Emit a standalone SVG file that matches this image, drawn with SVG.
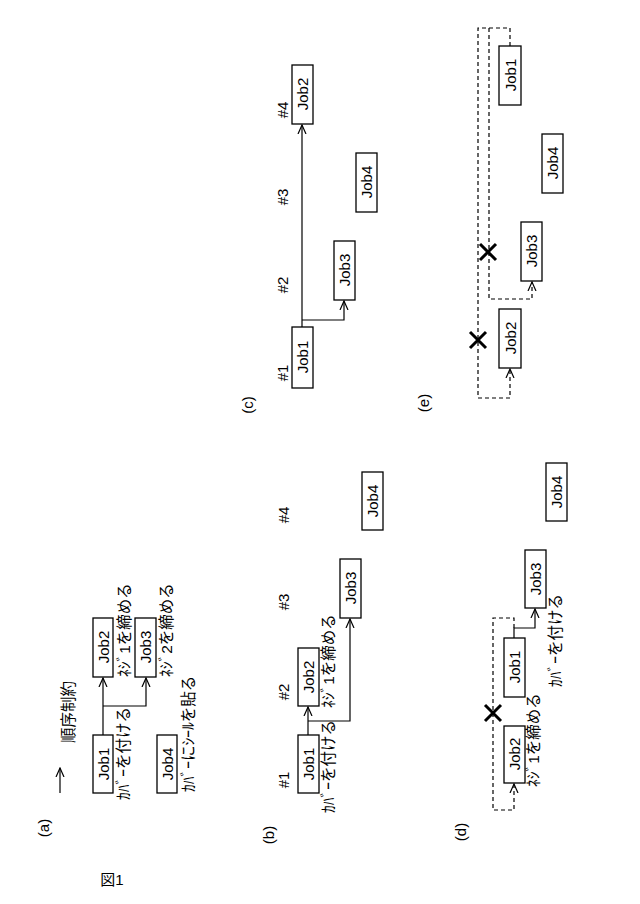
<svg xmlns="http://www.w3.org/2000/svg" width="640" height="904" viewBox="0 0 640 904">
<style>
.b{fill:#fff;stroke:#000;stroke-width:1.3}
.t{font-family:"Liberation Sans",sans-serif;font-size:15px;text-anchor:middle;dominant-baseline:central}
.j{font-family:"Liberation Sans","Noto Sans CJK JP",sans-serif;font-size:15.5px;dominant-baseline:central}
.l{fill:none;stroke:#000;stroke-width:1.2}
.d{fill:none;stroke:#000;stroke-width:1.2;stroke-dasharray:4,3}
.x{stroke:#000;stroke-width:3}
</style>
<defs>
<marker id="a" markerWidth="10" markerHeight="10" refX="9" refY="5" orient="auto" markerUnits="userSpaceOnUse"><path d="M0,1 L9,5 L0,9" fill="none" stroke="#000" stroke-width="1.2"/></marker>
</defs>
<rect width="640" height="904" fill="#fff"/>
<g id="connectors">
<path class="l" d="M60,793 V768" marker-end="url(#a)"/>
<path class="l" d="M103,735 V678" marker-end="url(#a)"/>
<path class="l" d="M103,706 H146 V678" marker-end="url(#a)"/>
<path class="l" d="M308,735 V707" marker-end="url(#a)"/>
<path class="l" d="M308,721 H350 V619" marker-end="url(#a)"/>
<path class="l" d="M302,327 V125" marker-end="url(#a)"/>
<path class="l" d="M302,320 H344 V301" marker-end="url(#a)"/>
<path class="l" d="M514,638 V628 H535 V609" marker-end="url(#a)"/>
<path class="d" d="M514,628 V618 H493 V810 H514 V784" marker-end="url(#a)"/>
<path class="d" d="M510,46 V28 H478 V398 H510 V369" marker-end="url(#a)"/>
<path class="d" d="M489,28 V299 H532 V282" marker-end="url(#a)"/>
<path class="x" d="M485,705 L501,721 M501,705 L485,721"/>
<path class="x" d="M480,244 L496,260 M496,244 L480,260"/>
<path class="x" d="M470,332 L486,348 M486,332 L470,348"/>
</g>
<g id="panel-a">
<text class="j" transform="translate(68,743) rotate(-90)">順序制約</text>
<text class="t" transform="translate(43,828) rotate(-90)">(a)</text>
<g id="a-job1"><rect class="b" x="93" y="735" width="20" height="58"/><text class="t" transform="translate(103,764) rotate(-90)">Job1</text><text class="j" transform="translate(123,800) rotate(-90)">ｶﾊﾞｰを付ける</text></g>
<g id="a-job2"><rect class="b" x="93" y="618" width="20" height="59"/><text class="t" transform="translate(103,647) rotate(-90)">Job2</text><text class="j" transform="translate(124,677) rotate(-90)">ﾈｼﾞ1を締める</text></g>
<g id="a-job3"><rect class="b" x="135" y="618" width="21" height="59"/><text class="t" transform="translate(145,647) rotate(-90)">Job3</text><text class="j" transform="translate(166,677) rotate(-90)">ﾈｼﾞ2を締める</text></g>
<g id="a-job4"><rect class="b" x="157" y="735" width="20" height="58"/><text class="t" transform="translate(167,764) rotate(-90)">Job4</text><text class="j" transform="translate(188,792) rotate(-90)">ｶﾊﾞｰにｼｰﾙを貼る</text></g>
</g>
<g id="panel-b">
<text class="t" transform="translate(268,835) rotate(-90)">(b)</text>
<text class="t" transform="translate(283,780) rotate(-90)">#1</text>
<text class="t" transform="translate(283,692) rotate(-90)">#2</text>
<text class="t" transform="translate(283,602) rotate(-90)">#3</text>
<text class="t" transform="translate(283,515) rotate(-90)">#4</text>
<g id="b-job1"><rect class="b" x="298" y="735" width="21" height="58"/><text class="t" transform="translate(308,764) rotate(-90)">Job1</text><text class="j" transform="translate(328,813) rotate(-90)">ｶﾊﾞｰを付ける</text></g>
<g id="b-job2"><rect class="b" x="298" y="648" width="21" height="58"/><text class="t" transform="translate(308,677) rotate(-90)">Job2</text><text class="j" transform="translate(328,708) rotate(-90)">ﾈｼﾞ1を締める</text></g>
<g id="b-job3"><rect class="b" x="340" y="559" width="21" height="59"/><text class="t" transform="translate(350,588) rotate(-90)">Job3</text></g>
<g id="b-job4"><rect class="b" x="362" y="472" width="21" height="58"/><text class="t" transform="translate(372,501) rotate(-90)">Job4</text></g>
</g>
<g id="panel-c">
<text class="t" transform="translate(247,405) rotate(-90)">(c)</text>
<text class="t" transform="translate(282,373) rotate(-90)">#1</text>
<text class="t" transform="translate(282,285) rotate(-90)">#2</text>
<text class="t" transform="translate(282,197) rotate(-90)">#3</text>
<text class="t" transform="translate(282,110) rotate(-90)">#4</text>
<g id="c-job1"><rect class="b" x="292" y="327" width="21" height="61"/><text class="t" transform="translate(302,357) rotate(-90)">Job1</text></g>
<g id="c-job2"><rect class="b" x="292" y="65" width="21" height="59"/><text class="t" transform="translate(302,94) rotate(-90)">Job2</text></g>
<g id="c-job3"><rect class="b" x="334" y="241" width="21" height="59"/><text class="t" transform="translate(344,270) rotate(-90)">Job3</text></g>
<g id="c-job4"><rect class="b" x="356" y="153" width="21" height="59"/><text class="t" transform="translate(366,182) rotate(-90)">Job4</text></g>
</g>
<g id="panel-d">
<text class="t" transform="translate(460,832) rotate(-90)">(d)</text>
<g id="d-job2"><rect class="b" x="504" y="726" width="21" height="57"/><text class="t" transform="translate(514,754) rotate(-90)">Job2</text><text class="j" transform="translate(533,787) rotate(-90)">ﾈｼﾞ1を締める</text></g>
<g id="d-job1"><rect class="b" x="504" y="638" width="21" height="59"/><text class="t" transform="translate(514,667) rotate(-90)">Job1</text></g>
<g id="d-job3"><rect class="b" x="525" y="550" width="21" height="58"/><text class="t" transform="translate(535,579) rotate(-90)">Job3</text><text class="j" transform="translate(555,687) rotate(-90)">ｶﾊﾞｰを付ける</text></g>
<g id="d-job4"><rect class="b" x="546" y="463" width="21" height="58"/><text class="t" transform="translate(556,492) rotate(-90)">Job4</text></g>
</g>
<g id="panel-e">
<text class="t" transform="translate(423,403) rotate(-90)">(e)</text>
<g id="e-job1"><rect class="b" x="499" y="46" width="22" height="59"/><text class="t" transform="translate(510,75) rotate(-90)">Job1</text></g>
<g id="e-job4"><rect class="b" x="542" y="134" width="21" height="59"/><text class="t" transform="translate(552,163) rotate(-90)">Job4</text></g>
<g id="e-job3"><rect class="b" x="521" y="222" width="21" height="59"/><text class="t" transform="translate(531,251) rotate(-90)">Job3</text></g>
<g id="e-job2"><rect class="b" x="499" y="309" width="22" height="59"/><text class="t" transform="translate(510,338) rotate(-90)">Job2</text></g>
</g>
<text x="112" y="885" font-family="Liberation Sans,'Noto Sans CJK JP',sans-serif" font-size="15" text-anchor="middle">図1</text>
</svg>
